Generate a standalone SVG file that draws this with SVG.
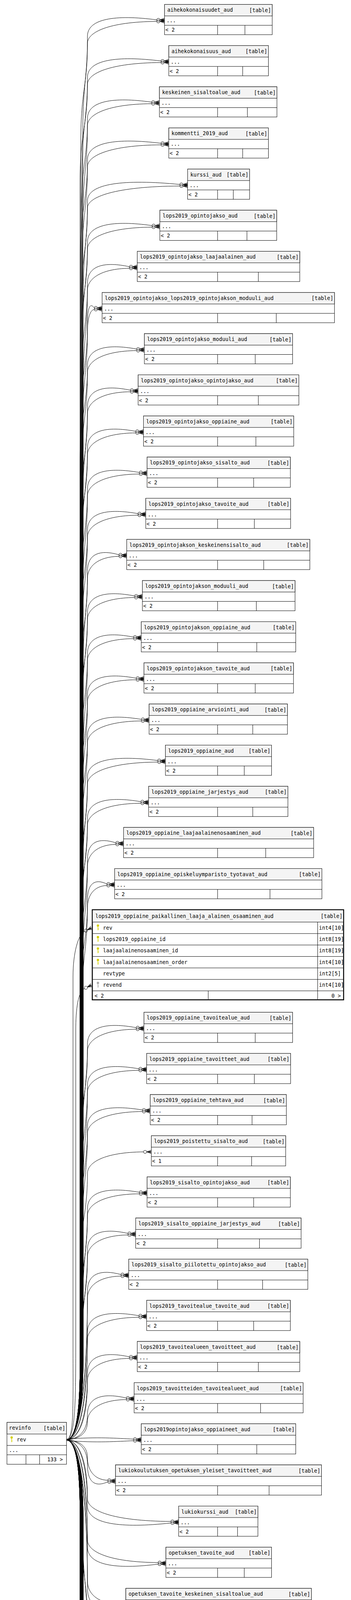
<svg xmlns="http://www.w3.org/2000/svg" width="899" height="7357" viewBox="0 0 899 7357">
<style>
text{font-family:"DejaVu Sans Mono","Liberation Mono",monospace;font-size:13.3px;fill:#000}
.b{fill:#fff;stroke:#000;stroke-width:1}
.h{fill:#f4f4f4;stroke:#000;stroke-width:1}
.l{fill:none;stroke:#000;stroke-width:1}
.e{text-anchor:end}
#edges path{fill:none;stroke:#000;stroke-width:1}
.ky{fill:#d4cf00;stroke:#d4cf00;stroke-width:1.4}
.kg{fill:#a8a8a8;stroke:#a8a8a8;stroke-width:1.4}
</style>
<defs>
<g id="cf"><circle cx="-16" cy="0" r="4" fill="none" stroke="#000" stroke-width="1"/><path d="M-12,0L0,-4.5M-12,0H0M-12,0L0,4.5" fill="none" stroke="#000" stroke-width="1"/><path d="M-12,0L0,-2.6L-3,0L0,2.6Z" fill="#000" stroke="none"/></g>
<g id="key"><circle cx="0" cy="9" r="2.3"/><path d="M0,11V21M0,16H2M0,19H2" fill="none"/></g>
</defs>
<rect width="899" height="7357" fill="#fff"/>
<g id="edges">
<path d="M170.5,3686C195,3682 212,3620 212,3480L212,342.8c0,-130 12,-140 12,-250c0,-45 71,-56 177.4,-42"/>
<path d="M170.5,3686C195,3682 207,3620 207,3480L207,360.8c0,-130 17,-140 17,-250c0,-28 53.2,-55 177.4,-56"/>
<path d="M170.5,3686C195,3682 210,3620 210,3480L210,448.1c0,-130 14,-140 14,-250c0,-45 75.3,-56 188.3,-42"/>
<path d="M170.5,3686C195,3682 205,3620 205,3480L205,466.1c0,-130 19,-140 19,-250c0,-28 56.5,-55 188.3,-56"/>
<path d="M170.5,3686C195,3682 208,3620 208,3480L208,553.5c0,-130 16,-140 16,-250c0,-45 65.7,-56 164.3,-42"/>
<path d="M170.5,3686C195,3682 212,3620 212,3480L212,571.5c0,-130 12,-140 12,-250c0,-28 49.3,-55 164.3,-56"/>
<path d="M170.5,3686C195,3682 206,3620 206,3480L206,658.8c0,-130 18,-140 18,-250c0,-45 75.3,-56 188.3,-42"/>
<path d="M170.5,3686C195,3682 210,3620 210,3480L210,676.8c0,-130 14,-140 14,-250c0,-28 56.5,-55 188.3,-56"/>
<path d="M170.5,3686C195,3682 213,3620 213,3480L213,764.2c0,-130 11,-140 11,-250c0,-45 94.6,-56 236.5,-42"/>
<path d="M170.5,3686C195,3682 208,3620 208,3480L208,782.2c0,-130 16,-140 16,-250c0,-28 71,-55 236.5,-56"/>
<path d="M170.5,3686C195,3682 211,3620 211,3480L211,869.5c0,-130 13,-140 13,-250c0,-45 66.2,-56 165.4,-42"/>
<path d="M170.5,3686C195,3682 206,3620 206,3480L206,887.5c0,-130 18,-140 18,-250c0,-28 49.6,-55 165.4,-56"/>
<path d="M170.5,3686C195,3682 209,3620 209,3480L209,974.8c0,-130 15,-140 15,-250c0,-45 43,-56 107.5,-42"/>
<path d="M170.5,3686C195,3682 213,3620 213,3480L213,992.8c0,-130 11,-140 11,-250c0,-28 32.3,-55 107.5,-56"/>
<path d="M170.5,3686C195,3682 207,3620 207,3480L207,1080.2c0,-130 17,-140 17,-250c0,-45 7,-56 17.5,-42"/>
<path d="M170.5,3686C195,3682 211,3620 211,3480L211,1098.2c0,-130 13,-140 13,-250c0,-28 5.3,-55 17.5,-56"/>
<path d="M170.5,3686C195,3682 205,3620 205,3480L205,1185.5c0,-130 19,-140 19,-250c0,-45 50.3,-56 125.8,-42"/>
<path d="M170.5,3686C195,3682 209,3620 209,3480L209,1203.5c0,-130 15,-140 15,-250c0,-28 37.7,-55 125.8,-56"/>
<path d="M170.5,3686C195,3682 212,3620 212,3480L212,1290.9c0,-130 12,-140 12,-250c0,-45 43.9,-56 109.8,-42"/>
<path d="M170.5,3686C195,3682 207,3620 207,3480L207,1308.9c0,-130 17,-140 17,-250c0,-28 32.9,-55 109.8,-56"/>
<path d="M170.5,3686C195,3682 210,3620 210,3480L210,1396.2c0,-130 14,-140 14,-250c0,-45 49.4,-56 123.5,-42"/>
<path d="M170.5,3686C195,3682 205,3620 205,3480L205,1414.2c0,-130 19,-140 19,-250c0,-28 37.1,-55 123.5,-56"/>
<path d="M170.5,3686C195,3682 208,3620 208,3480L208,1501.5c0,-130 16,-140 16,-250c0,-45 53.1,-56 132.7,-42"/>
<path d="M170.5,3686C195,3682 212,3620 212,3480L212,1519.5c0,-130 12,-140 12,-250c0,-28 39.8,-55 132.7,-56"/>
<path d="M170.5,3686C195,3682 206,3620 206,3480L206,1606.9c0,-130 18,-140 18,-250c0,-45 51.7,-56 129.3,-42"/>
<path d="M170.5,3686C195,3682 210,3620 210,3480L210,1624.9c0,-130 14,-140 14,-250c0,-28 38.8,-55 129.3,-56"/>
<path d="M170.5,3686C195,3682 213,3620 213,3480L213,1712.2c0,-130 11,-140 11,-250c0,-45 32.2,-56 80.5,-42"/>
<path d="M170.5,3686C195,3682 208,3620 208,3480L208,1730.2c0,-130 16,-140 16,-250c0,-28 24.2,-55 80.5,-56"/>
<path d="M170.5,3686C195,3682 211,3620 211,3480L211,1817.6c0,-130 13,-140 13,-250c0,-45 48.3,-56 120.7,-42"/>
<path d="M170.5,3686C195,3682 206,3620 206,3480L206,1835.6c0,-130 18,-140 18,-250c0,-28 36.2,-55 120.7,-56"/>
<path d="M170.5,3686C195,3682 209,3620 209,3480L209,1922.9c0,-130 15,-140 15,-250c0,-45 47.1,-56 117.8,-42"/>
<path d="M170.5,3686C195,3682 213,3620 213,3480L213,1940.9c0,-130 11,-140 11,-250c0,-28 35.3,-55 117.8,-56"/>
<path d="M170.5,3686C195,3682 207,3620 207,3480L207,2028.2c0,-130 17,-140 17,-250c0,-45 49.9,-56 124.7,-42"/>
<path d="M170.5,3686C195,3682 211,3620 211,3480L211,2046.2c0,-130 13,-140 13,-250c0,-28 37.4,-55 124.7,-56"/>
<path d="M170.5,3686C195,3682 205,3620 205,3480L205,2133.6c0,-130 19,-140 19,-250c0,-45 55.2,-56 137.9,-42"/>
<path d="M170.5,3686C195,3682 209,3620 209,3480L209,2151.6c0,-130 15,-140 15,-250c0,-28 41.4,-55 137.9,-56"/>
<path d="M170.5,3686C195,3682 212,3620 212,3480L212,2238.9c0,-130 12,-140 12,-250c0,-45 71.9,-56 179.7,-42"/>
<path d="M170.5,3686C195,3682 207,3620 207,3480L207,2256.9c0,-130 17,-140 17,-250c0,-28 53.9,-55 179.7,-56"/>
<path d="M170.5,3686C195,3682 210,3620 210,3480L210,2344.3c0,-130 14,-140 14,-250c0,-45 54.7,-56 136.7,-42"/>
<path d="M170.5,3686C195,3682 205,3620 205,3480L205,2362.3c0,-130 19,-140 19,-250c0,-28 41,-55 136.7,-56"/>
<path d="M170.5,3686C195,3682 208,3620 208,3480L208,2449.6c0,-130 16,-140 16,-250c0,-45 29,-56 72.5,-42"/>
<path d="M170.5,3686C195,3682 212,3620 212,3480L212,2467.6c0,-130 12,-140 12,-250c0,-28 21.8,-55 72.5,-56"/>
<path d="M170.5,3686C195,3682 206,3620 206,3480L206,2554.9c0,-130 18,-140 18,-250c0,-45 19.8,-56 49.6,-42"/>
<path d="M170.5,3686C195,3682 210,3620 210,3480L210,2572.9c0,-130 14,-140 14,-250c0,-28 14.9,-55 49.6,-56"/>
<path d="M170.5,3686C190,3680 187,3600 187,3450L187,2500C187,2440 200,2393 216.4,2384"/>
<path d="M170.5,3686C192,3680 194,3600 194,3450L194,2640C194,2580 200,2540 216.4,2530.5"/>
<path d="M170.5,3686C195,3682 211,3620 211,3480L211,2922.8c0,-130 13,-140 13,-250c0,-45 49.9,-56 124.7,-42"/>
<path d="M170.5,3686C195,3682 206,3620 206,3480L206,2940.8c0,-130 18,-140 18,-250c0,-28 37.4,-55 124.7,-56"/>
<path d="M170.5,3686C195,3682 209,3620 209,3480L209,3028.1c0,-130 15,-140 15,-250c0,-45 52.6,-56 131.6,-42"/>
<path d="M170.5,3686C195,3682 213,3620 213,3480L213,3046.1c0,-130 11,-140 11,-250c0,-28 39.5,-55 131.6,-56"/>
<path d="M170.5,3686C195,3682 207,3620 207,3480L207,3133.5c0,-130 17,-140 17,-250c0,-45 56.3,-56 140.7,-42"/>
<path d="M170.5,3686C195,3682 211,3620 211,3480L211,3151.5c0,-130 13,-140 13,-250c0,-28 42.2,-55 140.7,-56"/>
<path d="M170.5,3686C195,3682 205,3620 205,3480L205,3253.8c0,-130 19,-140 19,-250c0,-28 43.1,-54 143.6,-55"/>
<path d="M170.5,3686C195,3682 212,3620 212,3480L212,3344.2c0,-130 12,-140 12,-250c0,-45 53.1,-56 132.7,-42"/>
<path d="M170.5,3686C195,3682 207,3620 207,3480L207,3362.2c0,-130 17,-140 17,-250c0,-28 39.8,-55 132.7,-56"/>
<path d="M170.5,3686C195,3682 210,3620 210,3480L210,3449.5c0,-130 14,-140 14,-250c0,-45 41.4,-56 103.5,-42"/>
<path d="M170.5,3686C195,3682 205,3620 205,3480L205,3467.5c0,-130 19,-140 19,-250c0,-28 31.1,-55 103.5,-56"/>
<path d="M170.5,3686C200,3684 224,3571.6 224,3304.8c0,-45 34.3,-56 85.7,-42"/>
<path d="M170.5,3686C200,3684 224,3577 224,3322.8c0,-28 25.7,-55 85.7,-56"/>
<path d="M170.5,3686C200,3684 224,3603.3 224,3410.2c0,-45 52.6,-56 131.6,-42"/>
<path d="M170.5,3686C200,3684 224,3608.7 224,3428.2c0,-28 39.5,-55 131.6,-56"/>
<path d="M170.5,3686C200,3684 224,3634.8 224,3515.5c0,-45 43,-56 107.5,-42"/>
<path d="M170.5,3686C200,3684 224,3640.3 224,3533.5c0,-28 32.3,-55 107.5,-56"/>
<path d="M170.5,3686C200,3684 224,3666.5 224,3620.9c0,-45 39.8,-56 99.5,-42"/>
<path d="M170.5,3686C200,3684 224,3671.9 224,3638.9c0,-28 29.9,-55 99.5,-56"/>
<path d="M170.5,3684C250,3678 300,3682 341.8,3684.2"/>
<path d="M170.5,3688C250,3694 300,3690 341.8,3688.2"/>
<path d="M170.5,3686C200,3688 224,3699.7 224,3731.5c0,30 15.6,57 51.9,58"/>
<path d="M170.5,3686C200,3688 224,3705.1 224,3749.5c0,47 20.8,58 51.9,44"/>
<path d="M170.5,3686C200,3688 224,3731.3 224,3836.9c0,30 64.1,57 213.6,58"/>
<path d="M170.5,3686C200,3688 224,3736.7 224,3854.9c0,47 85.4,58 213.6,44"/>
<path d="M170.5,3686C200,3688 224,3762.9 224,3942.2c0,30 54.3,57 180.9,58"/>
<path d="M170.5,3686C200,3688 224,3768.3 224,3960.2c0,47 72.4,58 180.9,44"/>
<path d="M170.5,3686C200,3688 224,3794.5 224,4047.6c0,30 23.5,57 78.2,58"/>
<path d="M170.5,3686C200,3688 224,3799.9 224,4065.6c0,47 31.3,58 78.2,44"/>
<path d="M170.5,3686C195,3690 208,3752 208,3892L208,3902.9c0,130 16,140 16,250c0,30 26.2,57 87.4,58"/>
<path d="M170.5,3686C195,3690 212,3752 212,3892L212,3920.9c0,130 12,140 12,250c0,47 35,58 87.4,44"/>
<path d="M170.5,3686C195,3690 206,3752 206,3892L206,4008.2c0,130 18,140 18,250c0,30 26.2,57 87.4,58"/>
<path d="M170.5,3686C195,3690 210,3752 210,3892L210,4026.2c0,130 14,140 14,250c0,47 35,58 87.4,44"/>
<path d="M170.5,3686C195,3690 213,3752 213,3892L213,4113.6c0,130 11,140 11,250c0,30 32.9,57 109.8,58"/>
<path d="M170.5,3686C195,3690 208,3752 208,3892L208,4131.6c0,130 16,140 16,250c0,47 43.9,58 109.8,44"/>
<path d="M170.5,3686C195,3690 211,3752 211,3892L211,4218.9c0,130 13,140 13,250c0,30 53.1,57 176.9,58"/>
<path d="M170.5,3686C195,3690 206,3752 206,3892L206,4236.9c0,130 18,140 18,250c0,47 70.8,58 176.9,44"/>
<path d="M170.5,3686C195,3690 209,3752 209,3892L209,4324.3c0,130 15,140 15,250c0,30 33.8,57 112.7,58"/>
<path d="M170.5,3686C195,3690 213,3752 213,3892L213,4342.3c0,130 11,140 11,250c0,47 45.1,58 112.7,44"/>
<path d="M170.5,3686C195,3690 207,3752 207,3892L207,4429.6c0,130 17,140 17,250c0,30 32.6,57 108.6,58"/>
<path d="M170.5,3686C195,3690 211,3752 211,3892L211,4447.6c0,130 13,140 13,250c0,47 43.4,58 108.6,44"/>
<path d="M170.5,3686C195,3690 205,3752 205,3892L205,4534.9c0,130 19,140 19,250c0,30 46.7,57 155.7,58"/>
<path d="M170.5,3686C195,3690 209,3752 209,3892L209,4552.9c0,130 15,140 15,250c0,47 62.3,58 155.7,44"/>
<path d="M170.5,3686C195,3690 212,3752 212,3892L212,4640.3c0,130 12,140 12,250c0,30 33.8,57 112.7,58"/>
<path d="M170.5,3686C195,3690 207,3752 207,3892L207,4658.3c0,130 17,140 17,250c0,47 45.1,58 112.7,44"/>
<path d="M170.5,3686C195,3690 210,3752 210,3892L210,4745.6c0,130 14,140 14,250c0,30 37.4,57 124.7,58"/>
<path d="M170.5,3686C195,3690 205,3752 205,3892L205,4763.6c0,130 19,140 19,250c0,47 49.9,58 124.7,44"/>
<path d="M170.5,3686C195,3690 208,3752 208,3892L208,4851c0,130 16,140 16,250c0,30 67.4,57 224.5,58"/>
<path d="M170.5,3686C195,3690 212,3752 212,3892L212,4869c0,130 12,140 12,250c0,47 89.8,58 224.5,44"/>
<path d="M170.5,3686C195,3690 206,3752 206,3892L206,4956.3c0,130 18,140 18,250c0,30 52,57 173.4,58"/>
<path d="M170.5,3686C195,3690 210,3752 210,3892L210,4974.3c0,130 14,140 14,250c0,47 69.4,58 173.4,44"/>
<path d="M170.5,3686C195,3690 213,3752 213,3892L213,5061.6c0,130 11,140 11,250c0,30 51.5,57 171.7,58"/>
<path d="M170.5,3686C195,3690 208,3752 208,3892L208,5079.6c0,130 16,140 16,250c0,47 68.7,58 171.7,44"/>
<path d="M170.5,3686C195,3690 211,3752 211,3892L211,5167c0,130 13,140 13,250c0,30 39.5,57 131.6,58"/>
<path d="M170.5,3686C195,3690 206,3752 206,3892L206,5185c0,130 18,140 18,250c0,47 52.6,58 131.6,44"/>
<path d="M170.5,3686C195,3690 209,3752 209,3892L209,5272.3c0,130 15,140 15,250c0,30 49.3,57 164.3,58"/>
<path d="M170.5,3686C195,3690 213,3752 213,3892L213,5290.3c0,130 11,140 11,250c0,47 65.7,58 164.3,44"/>
<path d="M170.5,3686C195,3690 207,3752 207,3892L207,5377.7c0,130 17,140 17,250c0,30 55.7,57 185.5,58"/>
<path d="M170.5,3686C195,3690 211,3752 211,3892L211,5395.7c0,130 13,140 13,250c0,47 74.2,58 185.5,44"/>
<path d="M170.5,3686C195,3690 205,3752 205,3892L205,5483c0,130 19,140 19,250c0,30 23.3,57 77.7,58"/>
<path d="M170.5,3686C195,3690 209,3752 209,3892L209,5501c0,130 15,140 15,250c0,47 31.1,58 77.7,44"/>
<path d="M170.5,3686C195,3690 212,3752 212,3892L212,5588.3c0,130 12,140 12,250c0,30 47.9,57 159.7,58"/>
<path d="M170.5,3686C195,3690 207,3752 207,3892L207,5606.3c0,130 17,140 17,250c0,47 63.9,58 159.7,44"/>
<path d="M170.5,3686C195,3690 210,3752 210,3892L210,5693.7c0,130 14,140 14,250c0,30 17,57 56.5,58"/>
<path d="M170.5,3686C195,3690 205,3752 205,3892L205,5711.7c0,130 19,140 19,250c0,47 22.6,58 56.5,44"/>
<path d="M170.5,3686C195,3690 208,3752 208,3892L208,5799c0,130 16,140 16,250c0,30 21.8,57 72.5,58"/>
<path d="M170.5,3686C195,3690 212,3752 212,3892L212,5817c0,130 12,140 12,250c0,47 29,58 72.5,44"/>
<path d="M170.5,3686C195,3690 206,3752 206,3892L206,5904.4c0,130 18,140 18,250c0,30 61.3,59 204.4,60"/>
<path d="M170.5,3686C195,3690 213,3752 213,3892L213,6009.7c0,130 11,140 11,250c0,30 40.2,59 133.9,60"/>
<path d="M170.5,3686C195,3690 211,3752 211,3892L211,6115c0,130 13,140 13,250c0,30 29.3,57 97.7,58"/>
<path d="M170.5,3686C195,3690 206,3752 206,3892L206,6133c0,130 18,140 18,250c0,47 39.1,58 97.7,44"/>
<path d="M170.5,3686C195,3690 209,3752 209,3892L209,6220.4c0,130 15,140 15,250c0,30 49.6,57 165.4,58"/>
<path d="M170.5,3686C195,3690 213,3752 213,3892L213,6238.4c0,130 11,140 11,250c0,47 66.2,58 165.4,44"/>
<path d="M170.5,3686C195,3690 207,3752 207,3892L207,6325.7c0,130 17,140 17,250c0,30 52.7,57 175.7,58"/>
<path d="M170.5,3686C195,3690 211,3752 211,3892L211,6343.7c0,130 13,140 13,250c0,47 70.3,58 175.7,44"/>
<path d="M170.5,3686C195,3690 205,3752 205,3892L205,6431.1c0,130 19,140 19,250c0,30 60.5,57 201.5,58"/>
<path d="M170.5,3686C195,3690 209,3752 209,3892L209,6449.1c0,130 15,140 15,250c0,47 80.6,58 201.5,44"/>
<path d="M170.5,3686C195,3690 212,3752 212,3892L212,6536.4c0,130 12,140 12,250c0,30 54.5,57 181.5,58"/>
<path d="M170.5,3686C195,3690 207,3752 207,3892L207,6554.4c0,130 17,140 17,250c0,47 72.6,58 181.5,44"/>
<path d="M170.5,3686C195,3690 210,3752 210,3892L210,6641.7c0,130 14,140 14,250c0,30 66.5,57 221.6,58"/>
<path d="M170.5,3686C195,3690 205,3752 205,3892L205,6659.7c0,130 19,140 19,250c0,47 88.6,58 221.6,44"/>
<path d="M170.5,3686C195,3690 208,3752 208,3892L208,6747.1c0,130 16,140 16,250c0,30 56.9,57 189.5,58"/>
<path d="M170.5,3686C195,3690 212,3752 212,3892L212,6765.1c0,130 12,140 12,250c0,47 75.8,58 189.5,44"/>
<path d="M170.5,3686C195,3690 206,3752 206,3892L206,6852.4c0,130 18,140 18,250c0,30 48.2,57 160.8,58"/>
<path d="M170.5,3686C195,3690 210,3752 210,3892L210,6870.4c0,130 14,140 14,250c0,47 64.3,58 160.8,44"/>
<path d="M170.5,3686C195,3690 213,3752 213,3892L213,6957.8c0,130 11,140 11,250c0,30 59.9,57 199.8,58"/>
<path d="M170.5,3686C195,3690 208,3752 208,3892L208,6975.8c0,130 16,140 16,250c0,47 79.9,58 199.8,44"/>
<use href="#cf" x="421.4" y="50.8"/><use href="#cf" x="421.4" y="54.8"/>
<use href="#cf" x="432.3" y="156.1"/><use href="#cf" x="432.3" y="160.1"/>
<use href="#cf" x="408.3" y="261.5"/><use href="#cf" x="408.3" y="265.5"/>
<use href="#cf" x="432.3" y="366.8"/><use href="#cf" x="432.3" y="370.8"/>
<use href="#cf" x="480.5" y="472.2"/><use href="#cf" x="480.5" y="476.2"/>
<use href="#cf" x="409.4" y="577.5"/><use href="#cf" x="409.4" y="581.5"/>
<use href="#cf" x="351.5" y="682.8"/><use href="#cf" x="351.5" y="686.8"/>
<use href="#cf" x="261.5" y="788.2"/><use href="#cf" x="261.5" y="792.2"/>
<use href="#cf" x="369.8" y="893.5"/><use href="#cf" x="369.8" y="897.5"/>
<use href="#cf" x="353.8" y="998.9"/><use href="#cf" x="353.8" y="1002.9"/>
<use href="#cf" x="367.5" y="1104.2"/><use href="#cf" x="367.5" y="1108.2"/>
<use href="#cf" x="376.7" y="1209.5"/><use href="#cf" x="376.7" y="1213.5"/>
<use href="#cf" x="373.3" y="1314.9"/><use href="#cf" x="373.3" y="1318.9"/>
<use href="#cf" x="324.5" y="1420.2"/><use href="#cf" x="324.5" y="1424.2"/>
<use href="#cf" x="364.7" y="1525.6"/><use href="#cf" x="364.7" y="1529.6"/>
<use href="#cf" x="361.8" y="1630.9"/><use href="#cf" x="361.8" y="1634.9"/>
<use href="#cf" x="368.7" y="1736.2"/><use href="#cf" x="368.7" y="1740.2"/>
<use href="#cf" x="381.9" y="1841.6"/><use href="#cf" x="381.9" y="1845.6"/>
<use href="#cf" x="423.7" y="1946.9"/><use href="#cf" x="423.7" y="1950.9"/>
<use href="#cf" x="380.7" y="2052.3"/><use href="#cf" x="380.7" y="2056.3"/>
<use href="#cf" x="316.5" y="2157.6"/><use href="#cf" x="316.5" y="2161.6"/>
<use href="#cf" x="293.6" y="2262.9"/><use href="#cf" x="293.6" y="2266.9"/>
<use href="#cf" transform="translate(234.5,2375.5) rotate(-25)"/><use href="#cf" transform="translate(234.5,2522) rotate(-25)"/>
<use href="#cf" x="368.7" y="2630.8"/><use href="#cf" x="368.7" y="2634.8"/>
<use href="#cf" x="375.6" y="2736.1"/><use href="#cf" x="375.6" y="2740.1"/>
<use href="#cf" x="384.7" y="2841.5"/><use href="#cf" x="384.7" y="2845.5"/>
<use href="#cf" x="387.6" y="2948.8"/>
<use href="#cf" x="376.7" y="3052.2"/><use href="#cf" x="376.7" y="3056.2"/>
<use href="#cf" x="347.5" y="3157.5"/><use href="#cf" x="347.5" y="3161.5"/>
<use href="#cf" x="329.7" y="3262.8"/><use href="#cf" x="329.7" y="3266.8"/>
<use href="#cf" x="375.6" y="3368.2"/><use href="#cf" x="375.6" y="3372.2"/>
<use href="#cf" x="351.5" y="3473.5"/><use href="#cf" x="351.5" y="3477.5"/>
<use href="#cf" x="343.5" y="3578.9"/><use href="#cf" x="343.5" y="3582.9"/>
<use href="#cf" x="361.8" y="3684.2"/><use href="#cf" x="361.8" y="3688.2"/>
<use href="#cf" x="295.9" y="3789.5"/><use href="#cf" x="295.9" y="3793.5"/>
<use href="#cf" x="457.6" y="3894.9"/><use href="#cf" x="457.6" y="3898.9"/>
<use href="#cf" x="424.9" y="4000.2"/><use href="#cf" x="424.9" y="4004.2"/>
<use href="#cf" x="322.2" y="4105.6"/><use href="#cf" x="322.2" y="4109.6"/>
<use href="#cf" x="331.4" y="4210.9"/><use href="#cf" x="331.4" y="4214.9"/>
<use href="#cf" x="331.4" y="4316.2"/><use href="#cf" x="331.4" y="4320.2"/>
<use href="#cf" x="353.8" y="4421.6"/><use href="#cf" x="353.8" y="4425.6"/>
<use href="#cf" x="420.9" y="4526.9"/><use href="#cf" x="420.9" y="4530.9"/>
<use href="#cf" x="356.7" y="4632.3"/><use href="#cf" x="356.7" y="4636.3"/>
<use href="#cf" x="352.6" y="4737.6"/><use href="#cf" x="352.6" y="4741.6"/>
<use href="#cf" x="399.7" y="4842.9"/><use href="#cf" x="399.7" y="4846.9"/>
<use href="#cf" x="356.7" y="4948.3"/><use href="#cf" x="356.7" y="4952.3"/>
<use href="#cf" x="368.7" y="5053.6"/><use href="#cf" x="368.7" y="5057.6"/>
<use href="#cf" x="468.5" y="5159"/><use href="#cf" x="468.5" y="5163"/>
<use href="#cf" x="417.4" y="5264.3"/><use href="#cf" x="417.4" y="5268.3"/>
<use href="#cf" x="415.7" y="5369.6"/><use href="#cf" x="415.7" y="5373.6"/>
<use href="#cf" x="375.6" y="5475"/><use href="#cf" x="375.6" y="5479"/>
<use href="#cf" x="408.3" y="5580.3"/><use href="#cf" x="408.3" y="5584.3"/>
<use href="#cf" x="429.5" y="5685.7"/><use href="#cf" x="429.5" y="5689.7"/>
<use href="#cf" x="321.7" y="5791"/><use href="#cf" x="321.7" y="5795"/>
<use href="#cf" x="403.7" y="5896.3"/><use href="#cf" x="403.7" y="5900.3"/>
<use href="#cf" x="300.5" y="6001.7"/><use href="#cf" x="300.5" y="6005.7"/>
<use href="#cf" x="316.5" y="6107"/><use href="#cf" x="316.5" y="6111"/>
<use href="#cf" x="448.4" y="6214.4"/>
<use href="#cf" x="377.9" y="6319.7"/>
<use href="#cf" x="341.7" y="6423"/><use href="#cf" x="341.7" y="6427"/>
<use href="#cf" x="409.4" y="6528.4"/><use href="#cf" x="409.4" y="6532.4"/>
<use href="#cf" x="419.7" y="6633.7"/><use href="#cf" x="419.7" y="6637.7"/>
<use href="#cf" x="445.5" y="6739.1"/><use href="#cf" x="445.5" y="6743.1"/>
<use href="#cf" x="425.5" y="6844.4"/><use href="#cf" x="425.5" y="6848.4"/>
<use href="#cf" x="465.6" y="6949.7"/><use href="#cf" x="465.6" y="6953.7"/>
<use href="#cf" x="433.5" y="7055.1"/><use href="#cf" x="433.5" y="7059.1"/>
<use href="#cf" x="404.8" y="7160.4"/><use href="#cf" x="404.8" y="7164.4"/>
<use href="#cf" x="443.8" y="7265.8"/><use href="#cf" x="443.8" y="7269.8"/>
</g>
<g id="revinfo">
<rect class="b" x="17.8" y="3641.3" width="152.5" height="107.2"/>
<rect class="h" x="17.8" y="3641.3" width="152.5" height="29.8"/>
<path class="l" d="M17.8,3700.3H170.3M17.8,3724.2H170.3M66.5,3724.2V3748.5M101.5,3724.2V3748.5"/>
<text x="22.9" y="3660.3">revinfo</text><text class="e" x="167.3" y="3660.8">[table]</text>
<use href="#key" class="ky" x="29.8" y="3671.1"/>
<text x="43" y="3690.1">rev</text>
<text x="22.9" y="3716.5">...</text>
<text class="e" x="161" y="3741">133 &gt;</text>
</g>
<g id="t1" transform="translate(421.4,11.4)"><rect class="b" width="275.8" height="77.4"/><rect class="h" width="275.8" height="29.4"/><path class="l" d="M0,53.4H275.8M135.9,53.4V77.4M205.9,53.4V77.4"/><text x="7" y="19">aihekokonaisuudet_aud</text><text class="e" x="272.8" y="19.5">[table]</text><text x="5" y="46">...</text><text x="2" y="70">&lt; 2</text></g>
<g id="t2" transform="translate(432.3,116.7)"><rect class="b" width="255.2" height="77.4"/><rect class="h" width="255.2" height="29.4"/><path class="l" d="M0,53.4H255.2M125,53.4V77.4M189.3,53.4V77.4"/><text x="7" y="19">aihekokonaisuus_aud</text><text class="e" x="252.2" y="19.5">[table]</text><text x="5" y="46">...</text><text x="2" y="70">&lt; 2</text></g>
<g id="t3" transform="translate(408.3,222.1)"><rect class="b" width="301" height="77.4"/><rect class="h" width="301" height="29.4"/><path class="l" d="M0,53.4H301M149,53.4V77.4M225.3,53.4V77.4"/><text x="7" y="19">keskeinen_sisaltoalue_aud</text><text class="e" x="298" y="19.5">[table]</text><text x="5" y="46">...</text><text x="2" y="70">&lt; 2</text></g>
<g id="t4" transform="translate(432.3,327.4)"><rect class="b" width="255.2" height="77.4"/><rect class="h" width="255.2" height="29.4"/><path class="l" d="M0,53.4H255.2M125,53.4V77.4M189.3,53.4V77.4"/><text x="7" y="19">kommentti_2019_aud</text><text class="e" x="252.2" y="19.5">[table]</text><text x="5" y="46">...</text><text x="2" y="70">&lt; 2</text></g>
<g id="t5" transform="translate(480.5,432.8)"><rect class="b" width="158.8" height="77.4"/><rect class="h" width="158.8" height="29.4"/><path class="l" d="M0,53.4H158.8M76.8,53.4V77.4M117,53.4V77.4"/><text x="7" y="19">kurssi_aud</text><text class="e" x="155.8" y="19.5">[table]</text><text x="5" y="46">...</text><text x="2" y="70">&lt; 2</text></g>
<g id="t6" transform="translate(409.4,538.1)"><rect class="b" width="299.3" height="77.4"/><rect class="h" width="299.3" height="29.4"/><path class="l" d="M0,53.4H299.3M147.9,53.4V77.4M223.1,53.4V77.4"/><text x="7" y="19">lops2019_opintojakso_aud</text><text class="e" x="296.3" y="19.5">[table]</text><text x="5" y="46">...</text><text x="2" y="70">&lt; 2</text></g>
<g id="t7" transform="translate(351.5,643.4)"><rect class="b" width="416.3" height="77.4"/><rect class="h" width="416.3" height="29.4"/><path class="l" d="M0,53.4H416.3M205.8,53.4V77.4M310.2,53.4V77.4"/><text x="7" y="19">lops2019_opintojakso_laajaalainen_aud</text><text class="e" x="413.3" y="19.5">[table]</text><text x="5" y="46">...</text><text x="2" y="70">&lt; 2</text></g>
<g id="t8" transform="translate(261.5,748.8)"><rect class="b" width="595.2" height="77.4"/><rect class="h" width="595.2" height="29.4"/><path class="l" d="M0,53.4H595.2M295.8,53.4V77.4M446.1,53.4V77.4"/><text x="7" y="19">lops2019_opintojakso_lops2019_opintojakson_moduuli_aud</text><text class="e" x="592.2" y="19.5">[table]</text><text x="5" y="46">...</text><text x="2" y="70">&lt; 2</text></g>
<g id="t9" transform="translate(369.8,854.1)"><rect class="b" width="379.6" height="77.4"/><rect class="h" width="379.6" height="29.4"/><path class="l" d="M0,53.4H379.6M187.5,53.4V77.4M283.9,53.4V77.4"/><text x="7" y="19">lops2019_opintojakso_moduuli_aud</text><text class="e" x="376.6" y="19.5">[table]</text><text x="5" y="46">...</text><text x="2" y="70">&lt; 2</text></g>
<g id="t10" transform="translate(353.8,959.5)"><rect class="b" width="411.7" height="77.4"/><rect class="h" width="411.7" height="29.4"/><path class="l" d="M0,53.4H411.7M203.5,53.4V77.4M307.9,53.4V77.4"/><text x="7" y="19">lops2019_opintojakso_opintojakso_aud</text><text class="e" x="408.7" y="19.5">[table]</text><text x="5" y="46">...</text><text x="2" y="70">&lt; 2</text></g>
<g id="t11" transform="translate(367.5,1064.8)"><rect class="b" width="384.8" height="77.4"/><rect class="h" width="384.8" height="29.4"/><path class="l" d="M0,53.4H384.8M189.8,53.4V77.4M287.9,53.4V77.4"/><text x="7" y="19">lops2019_opintojakso_oppiaine_aud</text><text class="e" x="381.8" y="19.5">[table]</text><text x="5" y="46">...</text><text x="2" y="70">&lt; 2</text></g>
<g id="t12" transform="translate(376.7,1170.1)"><rect class="b" width="367" height="77.4"/><rect class="h" width="367" height="29.4"/><path class="l" d="M0,53.4H367M180.6,53.4V77.4M273,53.4V77.4"/><text x="7" y="19">lops2019_opintojakso_sisalto_aud</text><text class="e" x="364" y="19.5">[table]</text><text x="5" y="46">...</text><text x="2" y="70">&lt; 2</text></g>
<g id="t13" transform="translate(373.3,1275.5)"><rect class="b" width="371" height="77.4"/><rect class="h" width="371" height="29.4"/><path class="l" d="M0,53.4H371M184,53.4V77.4M278.1,53.4V77.4"/><text x="7" y="19">lops2019_opintojakso_tavoite_aud</text><text class="e" x="368" y="19.5">[table]</text><text x="5" y="46">...</text><text x="2" y="70">&lt; 2</text></g>
<g id="t14" transform="translate(324.5,1380.8)"><rect class="b" width="469.1" height="77.4"/><rect class="h" width="469.1" height="29.4"/><path class="l" d="M0,53.4H469.1M232.8,53.4V77.4M351,53.4V77.4"/><text x="7" y="19">lops2019_opintojakson_keskeinensisalto_aud</text><text class="e" x="466.1" y="19.5">[table]</text><text x="5" y="46">...</text><text x="2" y="70">&lt; 2</text></g>
<g id="t15" transform="translate(364.7,1486.2)"><rect class="b" width="391" height="77.4"/><rect class="h" width="391" height="29.4"/><path class="l" d="M0,53.4H391M192.6,53.4V77.4M291.8,53.4V77.4"/><text x="7" y="19">lops2019_opintojakson_moduuli_aud</text><text class="e" x="388" y="19.5">[table]</text><text x="5" y="46">...</text><text x="2" y="70">&lt; 2</text></g>
<g id="t16" transform="translate(361.8,1591.5)"><rect class="b" width="395.7" height="77.4"/><rect class="h" width="395.7" height="29.4"/><path class="l" d="M0,53.4H395.7M195.5,53.4V77.4M295.9,53.4V77.4"/><text x="7" y="19">lops2019_opintojakson_oppiaine_aud</text><text class="e" x="392.7" y="19.5">[table]</text><text x="5" y="46">...</text><text x="2" y="70">&lt; 2</text></g>
<g id="t17" transform="translate(368.7,1696.8)"><rect class="b" width="383" height="77.4"/><rect class="h" width="383" height="29.4"/><path class="l" d="M0,53.4H383M188.6,53.4V77.4M285,53.4V77.4"/><text x="7" y="19">lops2019_opintojakson_tavoite_aud</text><text class="e" x="380" y="19.5">[table]</text><text x="5" y="46">...</text><text x="2" y="70">&lt; 2</text></g>
<g id="t18" transform="translate(381.9,1802.2)"><rect class="b" width="354.3" height="77.4"/><rect class="h" width="354.3" height="29.4"/><path class="l" d="M0,53.4H354.3M175.4,53.4V77.4M265.5,53.4V77.4"/><text x="7" y="19">lops2019_oppiaine_arviointi_aud</text><text class="e" x="351.3" y="19.5">[table]</text><text x="5" y="46">...</text><text x="2" y="70">&lt; 2</text></g>
<g id="t19" transform="translate(423.7,1907.5)"><rect class="b" width="271.8" height="77.4"/><rect class="h" width="271.8" height="29.4"/><path class="l" d="M0,53.4H271.8M133.6,53.4V77.4M201.9,53.4V77.4"/><text x="7" y="19">lops2019_oppiaine_aud</text><text class="e" x="268.8" y="19.5">[table]</text><text x="5" y="46">...</text><text x="2" y="70">&lt; 2</text></g>
<g id="t20" transform="translate(380.7,2012.9)"><rect class="b" width="356.7" height="77.4"/><rect class="h" width="356.7" height="29.4"/><path class="l" d="M0,53.4H356.7M176.6,53.4V77.4M266.7,53.4V77.4"/><text x="7" y="19">lops2019_oppiaine_jarjestys_aud</text><text class="e" x="353.7" y="19.5">[table]</text><text x="5" y="46">...</text><text x="2" y="70">&lt; 2</text></g>
<g id="t21" transform="translate(316.5,2118.2)"><rect class="b" width="486.8" height="77.4"/><rect class="h" width="486.8" height="29.4"/><path class="l" d="M0,53.4H486.8M240.8,53.4V77.4M364.1,53.4V77.4"/><text x="7" y="19">lops2019_oppiaine_laajaalainenosaaminen_aud</text><text class="e" x="483.8" y="19.5">[table]</text><text x="5" y="46">...</text><text x="2" y="70">&lt; 2</text></g>
<g id="t22" transform="translate(293.6,2223.5)"><rect class="b" width="530.9" height="77.4"/><rect class="h" width="530.9" height="29.4"/><path class="l" d="M0,53.4H530.9M263.7,53.4V77.4M397.9,53.4V77.4"/><text x="7" y="19">lops2019_oppiaine_opiskeluymparisto_tyotavat_aud</text><text class="e" x="527.9" y="19.5">[table]</text><text x="5" y="46">...</text><text x="2" y="70">&lt; 2</text></g>
<g id="t23">
<rect x="236.35" y="2329" width="643.7" height="230.5" fill="#fff" stroke="#000" stroke-width="2.5"/>
<rect x="237.6" y="2330.25" width="641.2" height="30.25" fill="#f4f4f4"/>
<path class="l" d="M237.6,2360.5H878.8M237.6,2389.9H878.8M237.6,2419.2H878.8M237.6,2448.6H878.8M237.6,2477.9H878.8M237.6,2507.3H878.8M237.6,2536.6H878.8M813.6,2360.5V2558.2M533.3,2536.6V2558.2"/>
<text x="244.3" y="2349.8">lops2019_oppiaine_paikallinen_laaja_alainen_osaaminen_aud</text><text class="e" x="877.3" y="2350.3">[table]</text>
<use href="#key" class="ky" x="250.8" y="2360.5"/><text x="263.8" y="2379.5">rev</text><text x="817" y="2379.5">int4[10]</text>
<use href="#key" class="ky" x="250.8" y="2389.9"/><text x="263.8" y="2408.9">lops2019_oppiaine_id</text><text x="817" y="2408.9">int8[19]</text>
<use href="#key" class="ky" x="250.8" y="2419.2"/><text x="263.8" y="2438.2">laajaalainenosaaminen_id</text><text x="817" y="2438.2">int8[19]</text>
<use href="#key" class="ky" x="250.8" y="2448.6"/><text x="263.8" y="2467.6">laajaalainenosaaminen_order</text><text x="817" y="2467.6">int4[10]</text>
<text x="263.8" y="2496.9">revtype</text><text x="817" y="2496.9">int2[5]</text>
<use href="#key" class="kg" x="250.8" y="2507.3"/><text x="263.8" y="2526.3">revend</text><text x="817" y="2526.3">int4[10]</text>
<text x="242" y="2553.6">&lt; 2</text><text class="e" x="873" y="2553.6">0 &gt;</text>
</g>
<g id="t24" transform="translate(368.7,2591.4)"><rect class="b" width="380.7" height="77.4"/><rect class="h" width="380.7" height="29.4"/><path class="l" d="M0,53.4H380.7M188.6,53.4V77.4M285,53.4V77.4"/><text x="7" y="19">lops2019_oppiaine_tavoitealue_aud</text><text class="e" x="377.7" y="19.5">[table]</text><text x="5" y="46">...</text><text x="2" y="70">&lt; 2</text></g>
<g id="t25" transform="translate(375.6,2696.7)"><rect class="b" width="368.7" height="77.4"/><rect class="h" width="368.7" height="29.4"/><path class="l" d="M0,53.4H368.7M181.7,53.4V77.4M275.8,53.4V77.4"/><text x="7" y="19">lops2019_oppiaine_tavoitteet_aud</text><text class="e" x="365.7" y="19.5">[table]</text><text x="5" y="46">...</text><text x="2" y="70">&lt; 2</text></g>
<g id="t26" transform="translate(384.7,2802.1)"><rect class="b" width="348.7" height="77.4"/><rect class="h" width="348.7" height="29.4"/><path class="l" d="M0,53.4H348.7M172.6,53.4V77.4M260.9,53.4V77.4"/><text x="7" y="19">lops2019_oppiaine_tehtava_aud</text><text class="e" x="345.7" y="19.5">[table]</text><text x="5" y="46">...</text><text x="2" y="70">&lt; 2</text></g>
<g id="t27" transform="translate(387.6,2907.4)"><rect class="b" width="344.1" height="77.4"/><rect class="h" width="344.1" height="29.4"/><path class="l" d="M0,53.4H344.1M169.7,53.4V77.4M256.9,53.4V77.4"/><text x="7" y="19">lops2019_poistettu_sisalto_aud</text><text class="e" x="341.1" y="19.5">[table]</text><text x="5" y="46">...</text><text x="2" y="70">&lt; 1</text></g>
<g id="t28" transform="translate(376.7,3012.8)"><rect class="b" width="367" height="77.4"/><rect class="h" width="367" height="29.4"/><path class="l" d="M0,53.4H367M180.6,53.4V77.4M273,53.4V77.4"/><text x="7" y="19">lops2019_sisalto_opintojakso_aud</text><text class="e" x="364" y="19.5">[table]</text><text x="5" y="46">...</text><text x="2" y="70">&lt; 2</text></g>
<g id="t29" transform="translate(347.5,3118.1)"><rect class="b" width="423.7" height="77.4"/><rect class="h" width="423.7" height="29.4"/><path class="l" d="M0,53.4H423.7M209.8,53.4V77.4M317.1,53.4V77.4"/><text x="7" y="19">lops2019_sisalto_oppiaine_jarjestys_aud</text><text class="e" x="420.7" y="19.5">[table]</text><text x="5" y="46">...</text><text x="2" y="70">&lt; 2</text></g>
<g id="t30" transform="translate(329.7,3223.4)"><rect class="b" width="458.7" height="77.4"/><rect class="h" width="458.7" height="29.4"/><path class="l" d="M0,53.4H458.7M227.6,53.4V77.4M342.9,53.4V77.4"/><text x="7" y="19">lops2019_sisalto_piilotettu_opintojakso_aud</text><text class="e" x="455.7" y="19.5">[table]</text><text x="5" y="46">...</text><text x="2" y="70">&lt; 2</text></g>
<g id="t31" transform="translate(375.6,3328.8)"><rect class="b" width="368.1" height="77.4"/><rect class="h" width="368.1" height="29.4"/><path class="l" d="M0,53.4H368.1M181.7,53.4V77.4M274.1,53.4V77.4"/><text x="7" y="19">lops2019_tavoitealue_tavoite_aud</text><text class="e" x="365.1" y="19.5">[table]</text><text x="5" y="46">...</text><text x="2" y="70">&lt; 2</text></g>
<g id="t32" transform="translate(351.5,3434.1)"><rect class="b" width="416.3" height="77.4"/><rect class="h" width="416.3" height="29.4"/><path class="l" d="M0,53.4H416.3M205.8,53.4V77.4M310.2,53.4V77.4"/><text x="7" y="19">lops2019_tavoitealueen_tavoitteet_aud</text><text class="e" x="413.3" y="19.5">[table]</text><text x="5" y="46">...</text><text x="2" y="70">&lt; 2</text></g>
<g id="t33" transform="translate(343.5,3539.5)"><rect class="b" width="432.9" height="77.4"/><rect class="h" width="432.9" height="29.4"/><path class="l" d="M0,53.4H432.9M213.8,53.4V77.4M323.9,53.4V77.4"/><text x="7" y="19">lops2019_tavoitteiden_tavoitealueet_aud</text><text class="e" x="429.9" y="19.5">[table]</text><text x="5" y="46">...</text><text x="2" y="70">&lt; 2</text></g>
<g id="t34" transform="translate(361.8,3644.8)"><rect class="b" width="395.7" height="77.4"/><rect class="h" width="395.7" height="29.4"/><path class="l" d="M0,53.4H395.7M195.5,53.4V77.4M295.9,53.4V77.4"/><text x="7" y="19">lops2019opintojakso_oppiaineet_aud</text><text class="e" x="392.7" y="19.5">[table]</text><text x="5" y="46">...</text><text x="2" y="70">&lt; 2</text></g>
<g id="t35" transform="translate(295.9,3750.1)"><rect class="b" width="527.5" height="77.4"/><rect class="h" width="527.5" height="29.4"/><path class="l" d="M0,53.4H527.5M261.4,53.4V77.4M393.3,53.4V77.4"/><text x="7" y="19">lukiokoulutuksen_opetuksen_yleiset_tavoitteet_aud</text><text class="e" x="524.5" y="19.5">[table]</text><text x="5" y="46">...</text><text x="2" y="70">&lt; 2</text></g>
<g id="t36" transform="translate(457.6,3855.5)"><rect class="b" width="203" height="77.4"/><rect class="h" width="203" height="29.4"/><path class="l" d="M0,53.4H203M99.7,53.4V77.4M150.8,53.4V77.4"/><text x="7" y="19">lukiokurssi_aud</text><text class="e" x="200" y="19.5">[table]</text><text x="5" y="46">...</text><text x="2" y="70">&lt; 2</text></g>
<g id="t37" transform="translate(424.9,3960.8)"><rect class="b" width="270.6" height="77.4"/><rect class="h" width="270.6" height="29.4"/><path class="l" d="M0,53.4H270.6M132.4,53.4V77.4M200.7,53.4V77.4"/><text x="7" y="19">opetuksen_tavoite_aud</text><text class="e" x="267.6" y="19.5">[table]</text><text x="5" y="46">...</text><text x="2" y="70">&lt; 2</text></g>
<g id="t38" transform="translate(322.2,4066.2)"><rect class="b" width="475.4" height="77.4"/><rect class="h" width="475.4" height="29.4"/><path class="l" d="M0,53.4H475.4M235.1,53.4V77.4M355.6,53.4V77.4"/><text x="7" y="19">opetuksen_tavoite_keskeinen_sisaltoalue_aud</text><text class="e" x="472.4" y="19.5">[table]</text><text x="5" y="46">...</text><text x="2" y="70">&lt; 2</text></g>
<g id="t39" transform="translate(331.4,4171.5)"><rect class="b" width="457" height="77.4"/><rect class="h" width="457" height="29.4"/><path class="l" d="M0,53.4H457M225.9,53.4V77.4M341.2,53.4V77.4"/><text x="7" y="19">opetuksen_tavoite_oppiaine_kohdealue_aud</text><text class="e" x="454" y="19.5">[table]</text><text x="5" y="46">...</text><text x="2" y="70">&lt; 2</text></g>
<g id="t40" transform="translate(331.4,4276.8)"><rect class="b" width="455.9" height="77.4"/><rect class="h" width="455.9" height="29.4"/><path class="l" d="M0,53.4H455.9M225.9,53.4V77.4M341.2,53.4V77.4"/><text x="7" y="19">opetuksen_tavoite_tavoitteen_arviointi_aud</text><text class="e" x="452.9" y="19.5">[table]</text><text x="5" y="46">...</text><text x="2" y="70">&lt; 2</text></g>
<g id="t41" transform="translate(353.8,4382.2)"><rect class="b" width="410.5" height="77.4"/><rect class="h" width="410.5" height="29.4"/><path class="l" d="M0,53.4H410.5M203.5,53.4V77.4M306.8,53.4V77.4"/><text x="7" y="19">opetuksentavoite_laajattavoitteet_aud</text><text class="e" x="407.5" y="19.5">[table]</text><text x="5" y="46">...</text><text x="2" y="70">&lt; 2</text></g>
<g id="t42" transform="translate(420.9,4487.5)"><rect class="b" width="276.3" height="77.4"/><rect class="h" width="276.3" height="29.4"/><path class="l" d="M0,53.4H276.3M136.4,53.4V77.4M207,53.4V77.4"/><text x="7" y="19">opetussuunnitelma_aud</text><text class="e" x="273.3" y="19.5">[table]</text><text x="5" y="46">...</text><text x="2" y="70">&lt; 2</text></g>
<g id="t43" transform="translate(356.7,4592.9)"><rect class="b" width="407.1" height="77.4"/><rect class="h" width="407.1" height="29.4"/><path class="l" d="M0,53.4H407.1M200.6,53.4V77.4M303.9,53.4V77.4"/><text x="7" y="19">opetussuunnitelma_julkaisukielet_aud</text><text class="e" x="404.1" y="19.5">[table]</text><text x="5" y="46">...</text><text x="2" y="70">&lt; 2</text></g>
<g id="t44" transform="translate(352.6,4698.2)"><rect class="b" width="412.9" height="77.4"/><rect class="h" width="412.9" height="29.4"/><path class="l" d="M0,53.4H412.9M204.7,53.4V77.4M309.1,53.4V77.4"/><text x="7" y="19">opetussuunnitelma_koodistokoodi_aud</text><text class="e" x="409.9" y="19.5">[table]</text><text x="5" y="46">...</text><text x="2" y="70">&lt; 2</text></g>
<g id="t45" transform="translate(399.7,4803.5)"><rect class="b" width="319.9" height="77.4"/><rect class="h" width="319.9" height="29.4"/><path class="l" d="M0,53.4H319.9M157.6,53.4V77.4M237.9,53.4V77.4"/><text x="7" y="19">opetussuunnitelma_liite_aud</text><text class="e" x="316.9" y="19.5">[table]</text><text x="5" y="46">...</text><text x="2" y="70">&lt; 2</text></g>
<g id="t46" transform="translate(356.7,4908.9)"><rect class="b" width="407.1" height="77.4"/><rect class="h" width="407.1" height="29.4"/><path class="l" d="M0,53.4H407.1M200.6,53.4V77.4M303.9,53.4V77.4"/><text x="7" y="19">opetussuunnitelma_organisaatiot_aud</text><text class="e" x="404.1" y="19.5">[table]</text><text x="5" y="46">...</text><text x="2" y="70">&lt; 2</text></g>
<g id="t47" transform="translate(368.7,5014.2)"><rect class="b" width="380.7" height="77.4"/><rect class="h" width="380.7" height="29.4"/><path class="l" d="M0,53.4H380.7M188.6,53.4V77.4M285,53.4V77.4"/><text x="7" y="19">opetussuunnitelman_aikataulu_aud</text><text class="e" x="377.7" y="19.5">[table]</text><text x="5" y="46">...</text><text x="2" y="70">&lt; 2</text></g>
<g id="t48" transform="translate(468.5,5119.6)"><rect class="b" width="181.2" height="77.4"/><rect class="h" width="181.2" height="29.4"/><path class="l" d="M0,53.4H181.2M88.8,53.4V77.4M134.7,53.4V77.4"/><text x="7" y="19">oppiaine_aud</text><text class="e" x="178.2" y="19.5">[table]</text><text x="5" y="46">...</text><text x="2" y="70">&lt; 2</text></g>
<g id="t49" transform="translate(417.4,5224.9)"><rect class="b" width="283.9" height="77.4"/><rect class="h" width="283.9" height="29.4"/><path class="l" d="M0,53.4H283.9M139.9,53.4V77.4M212.2,53.4V77.4"/><text x="7" y="19">oppiaine_kohdealue_aud</text><text class="e" x="280.9" y="19.5">[table]</text><text x="5" y="46">...</text><text x="2" y="70">&lt; 2</text></g>
<g id="t50" transform="translate(415.7,5330.2)"><rect class="b" width="287.9" height="77.4"/><rect class="h" width="287.9" height="29.4"/><path class="l" d="M0,53.4H287.9M141.6,53.4V77.4M213.9,53.4V77.4"/><text x="7" y="19">oppiaine_lukiokurssi_aud</text><text class="e" x="284.9" y="19.5">[table]</text><text x="5" y="46">...</text><text x="2" y="70">&lt; 2</text></g>
<g id="t51" transform="translate(375.6,5435.6)"><rect class="b" width="368.7" height="77.4"/><rect class="h" width="368.7" height="29.4"/><path class="l" d="M0,53.4H368.7M181.7,53.4V77.4M275.8,53.4V77.4"/><text x="7" y="19">oppiaine_oppiaine_kohdealue_aud</text><text class="e" x="365.7" y="19.5">[table]</text><text x="5" y="46">...</text><text x="2" y="70">&lt; 2</text></g>
<g id="t52" transform="translate(408.3,5540.9)"><rect class="b" width="303.3" height="77.4"/><rect class="h" width="303.3" height="29.4"/><path class="l" d="M0,53.4H303.3M149,53.4V77.4M225.3,53.4V77.4"/><text x="7" y="19">oppiaine_vapaatekstit_aud</text><text class="e" x="300.3" y="19.5">[table]</text><text x="5" y="46">...</text><text x="2" y="70">&lt; 2</text></g>
<g id="t53" transform="translate(429.5,5646.3)"><rect class="b" width="259.7" height="77.4"/><rect class="h" width="259.7" height="29.4"/><path class="l" d="M0,53.4H259.7M127.8,53.4V77.4M193.8,53.4V77.4"/><text x="7" y="19">oppiaineen_vlkok_aud</text><text class="e" x="256.7" y="19.5">[table]</text><text x="5" y="46">...</text><text x="2" y="70">&lt; 2</text></g>
<g id="t54" transform="translate(321.7,5751.6)"><rect class="b" width="475.9" height="77.4"/><rect class="h" width="475.9" height="29.4"/><path class="l" d="M0,53.4H475.9M235.6,53.4V77.4M356.1,53.4V77.4"/><text x="7" y="19">oppiaineen_vlkok_oppiaineenvuosiluokka_aud</text><text class="e" x="472.9" y="19.5">[table]</text><text x="5" y="46">...</text><text x="2" y="70">&lt; 2</text></g>
<g id="t55" transform="translate(403.7,5856.9)"><rect class="b" width="311.9" height="77.4"/><rect class="h" width="311.9" height="29.4"/><path class="l" d="M0,53.4H311.9M153.6,53.4V77.4M232.8,53.4V77.4"/><text x="7" y="19">oppiaineenvuosiluokka_aud</text><text class="e" x="308.9" y="19.5">[table]</text><text x="5" y="46">...</text><text x="2" y="70">&lt; 2</text></g>
<g id="t56" transform="translate(300.5,5962.3)"><rect class="b" width="517.2" height="77.4"/><rect class="h" width="517.2" height="29.4"/><path class="l" d="M0,53.4H517.2M256.8,53.4V77.4M387,53.4V77.4"/><text x="7" y="19">oppiaineenvuosiluokka_keskeinen_sisaltoalue_aud</text><text class="e" x="514.2" y="19.5">[table]</text><text x="5" y="46">...</text><text x="2" y="70">&lt; 2</text></g>
<g id="t57" transform="translate(316.5,6067.6)"><rect class="b" width="486.8" height="77.4"/><rect class="h" width="486.8" height="29.4"/><path class="l" d="M0,53.4H486.8M240.8,53.4V77.4M364.1,53.4V77.4"/><text x="7" y="19">oppiaineenvuosiluokka_opetuksen_tavoite_aud</text><text class="e" x="483.8" y="19.5">[table]</text><text x="5" y="46">...</text><text x="2" y="70">&lt; 2</text></g>
<g id="t58" transform="translate(448.4,6173)"><rect class="b" width="221.3" height="77.4"/><rect class="h" width="221.3" height="29.4"/><path class="l" d="M0,53.4H221.3M108.9,53.4V77.4M165.1,53.4V77.4"/><text x="7" y="19">ops_oppiaine_aud</text><text class="e" x="218.3" y="19.5">[table]</text><text x="5" y="46">...</text><text x="2" y="70">&lt; 1</text></g>
<g id="t59" transform="translate(377.9,6278.3)"><rect class="b" width="363.5" height="77.4"/><rect class="h" width="363.5" height="29.4"/><path class="l" d="M0,53.4H363.5M179.4,53.4V77.4M271.8,53.4V77.4"/><text x="7" y="19">ops_vuosiluokkakokonaisuus_aud</text><text class="e" x="360.5" y="19.5">[table]</text><text x="5" y="46">...</text><text x="2" y="70">&lt; 1</text></g>
<g id="t60" transform="translate(341.7,6383.6)"><rect class="b" width="434.7" height="77.4"/><rect class="h" width="434.7" height="29.4"/><path class="l" d="M0,53.4H434.7M215.6,53.4V77.4M325.7,53.4V77.4"/><text x="7" y="19">paikallinen_laaja_alainen_osaaminen_aud</text><text class="e" x="431.7" y="19.5">[table]</text><text x="5" y="46">...</text><text x="2" y="70">&lt; 2</text></g>
<g id="t61" transform="translate(409.4,6489)"><rect class="b" width="299.9" height="77.4"/><rect class="h" width="299.9" height="29.4"/><path class="l" d="M0,53.4H299.9M147.9,53.4V77.4M224.2,53.4V77.4"/><text x="7" y="19">poistettu_opintojakso_aud</text><text class="e" x="296.9" y="19.5">[table]</text><text x="5" y="46">...</text><text x="2" y="70">&lt; 2</text></g>
<g id="t62" transform="translate(419.7,6594.3)"><rect class="b" width="281" height="77.4"/><rect class="h" width="281" height="29.4"/><path class="l" d="M0,53.4H281M137.6,53.4V77.4M208.7,53.4V77.4"/><text x="7" y="19">tavoitteen_arviointi_aud</text><text class="e" x="278" y="19.5">[table]</text><text x="5" y="46">...</text><text x="2" y="70">&lt; 2</text></g>
<g id="t63" transform="translate(445.5,6699.7)"><rect class="b" width="227.1" height="77.4"/><rect class="h" width="227.1" height="29.4"/><path class="l" d="M0,53.4H227.1M111.8,53.4V77.4M169.8,53.4V77.4"/><text x="7" y="19">tekstikappale_aud</text><text class="e" x="224.1" y="19.5">[table]</text><text x="5" y="46">...</text><text x="2" y="70">&lt; 2</text></g>
<g id="t64" transform="translate(425.5,6805)"><rect class="b" width="267.2" height="77.4"/><rect class="h" width="267.2" height="29.4"/><path class="l" d="M0,53.4H267.2M131.8,53.4V77.4M198.9,53.4V77.4"/><text x="7" y="19">tekstikappaleviite_aud</text><text class="e" x="264.2" y="19.5">[table]</text><text x="5" y="46">...</text><text x="2" y="70">&lt; 2</text></g>
<g id="t65" transform="translate(465.6,6910.3)"><rect class="b" width="186.9" height="77.4"/><rect class="h" width="186.9" height="29.4"/><path class="l" d="M0,53.4H186.9M91.7,53.4V77.4M138.8,53.4V77.4"/><text x="7" y="19">tekstiosa_aud</text><text class="e" x="183.9" y="19.5">[table]</text><text x="5" y="46">...</text><text x="2" y="70">&lt; 2</text></g>
<g id="t66" transform="translate(433.5,7015.7)"><rect class="b" width="251.7" height="77.4"/><rect class="h" width="251.7" height="29.4"/><path class="l" d="M0,53.4H251.7M123.8,53.4V77.4M188.1,53.4V77.4"/><text x="7" y="19">vlk_vapaatekstit_aud</text><text class="e" x="248.7" y="19.5">[table]</text><text x="5" y="46">...</text><text x="2" y="70">&lt; 2</text></g>
<g id="t67" transform="translate(404.8,7121)"><rect class="b" width="308.5" height="77.4"/><rect class="h" width="308.5" height="29.4"/><path class="l" d="M0,53.4H308.5M152.5,53.4V77.4M230.5,53.4V77.4"/><text x="7" y="19">vlkok_laaja_osaaminen_aud</text><text class="e" x="305.5" y="19.5">[table]</text><text x="5" y="46">...</text><text x="2" y="70">&lt; 2</text></g>
<g id="t68" transform="translate(443.8,7226.4)"><rect class="b" width="231.7" height="77.4"/><rect class="h" width="231.7" height="29.4"/><path class="l" d="M0,53.4H231.7M113.5,53.4V77.4M172.6,53.4V77.4"/><text x="7" y="19">vlkokonaisuus_aud</text><text class="e" x="228.7" y="19.5">[table]</text><text x="5" y="46">...</text><text x="2" y="70">&lt; 2</text></g>
<text x="16" y="7342.5">Generated by SchemaSpy</text>
</svg>
